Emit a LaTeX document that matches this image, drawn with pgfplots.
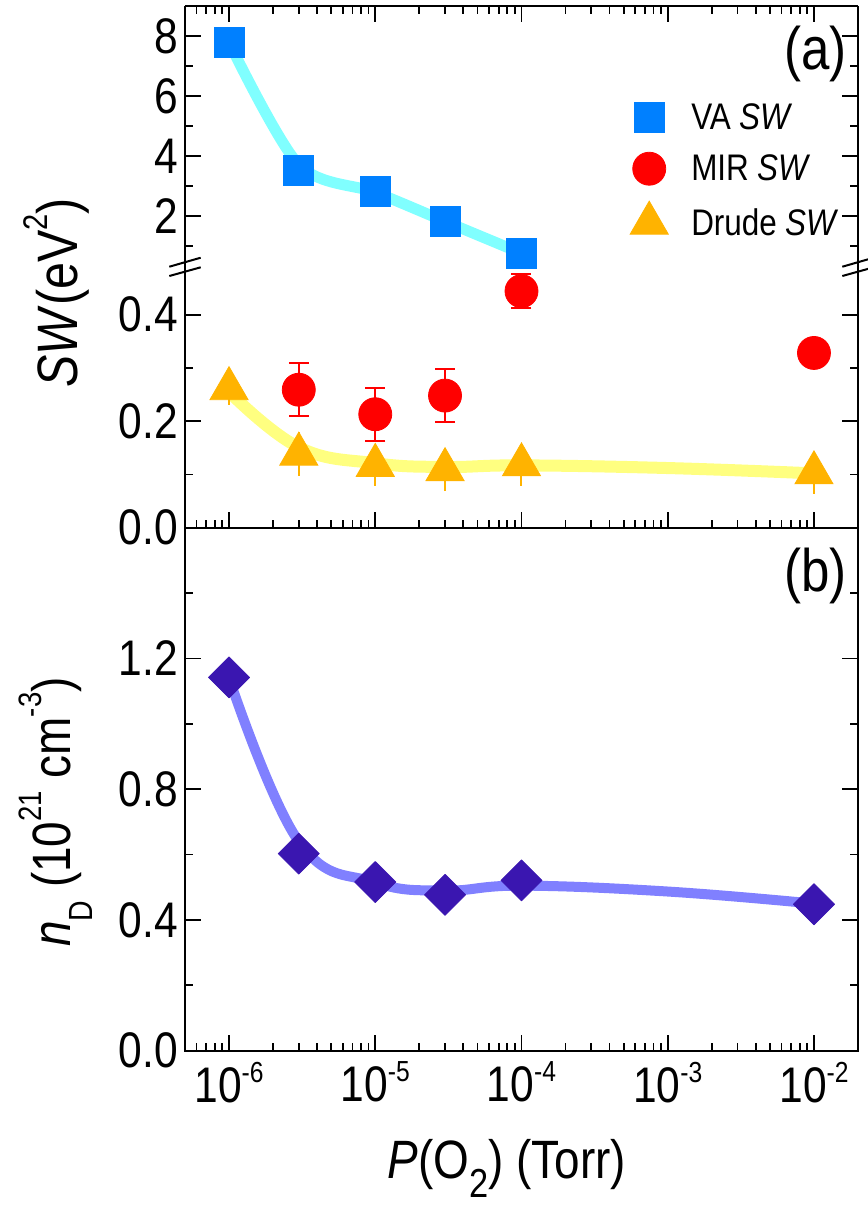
\documentclass[border=0pt]{standalone}
\usepackage{fontspec}
\setmainfont{Liberation Sans}[FakeStretch=0.85]
\usepackage{graphicx}
\usepackage{pgfplots}
\pgfplotsset{compat=1.18}
\definecolor{vablue}{RGB}{0,128,255}
\definecolor{valine}{RGB}{128,255,255}
\definecolor{mirred}{RGB}{255,0,0}
\definecolor{drude}{RGB}{255,179,0}
\definecolor{drline}{RGB}{255,255,128}
\definecolor{ndpurp}{RGB}{58,22,176}
\definecolor{ndline}{RGB}{128,128,255}
\newcommand{\sups}[1]{\raisebox{0.40em}{\scalebox{0.58}{#1}}}
\newcommand{\supy}[1]{\raisebox{0.52em}{\scalebox{0.6}{#1}}}
\newcommand{\subs}[1]{\raisebox{-0.42em}{\scalebox{0.62}{#1}}}
\newcommand{\subx}[1]{\raisebox{-0.36em}{\scalebox{0.75}{#1}}}
\pgfplotsset{
  every axis/.append style={
    scale only axis, width=336.5pt,
    xmin=5e-7, xmax=2e-2,
    tick align=inside,
    major tick length=8pt, minor tick length=4pt,
    axis line style={line width=1pt},
    every major tick/.append style={black, line width=0.9pt},
    every minor tick/.append style={black, line width=0.9pt},
    tick label style={font=\fontsize{25}{25}\selectfont},
  }
}
\begin{document}
\begin{tikzpicture}
\useasboundingbox (0,0) rectangle (434pt,-603.5pt);
% ---------- (a) upper section ----------
\begin{semilogxaxis}[at={(92.5pt,-130.65pt)}, anchor=south west, height=127.5pt,
  xtick={1e-6,1e-5,1e-4,1e-3,1e-2},
  minor xtick={6e-7,7e-7,8e-7,9e-7,2e-6,3e-6,4e-6,5e-6,6e-6,7e-6,8e-6,9e-6,2e-5,3e-5,4e-5,5e-5,6e-5,7e-5,8e-5,9e-5,2e-4,3e-4,4e-4,5e-4,6e-4,7e-4,8e-4,9e-4,2e-3,3e-3,4e-3,5e-3,6e-3,7e-3,8e-3,9e-3},
  ymin=0.5, ymax=9, ytick={2,4,6,8}, yticklabels={2,4,6,8}, minor ytick={1,3,5,7},
  axis x line*=top, axis y line*=box, xtick pos=right, ytick pos=both, xticklabel=\empty,
  legend style={draw=none, fill=none, at={(0.652,0.652)}, anchor=north west,
    font=\fontsize{18.5}{18.5}\selectfont, row sep=7pt,
    /tikz/every odd column/.append style={column sep=9.5pt}},
  legend cell align=left]
\addplot[valine, line width=5.5pt, smooth, line cap=round, forget plot] coordinates {
  (1e-6,7.8) (3e-6,3.72) (1e-5,2.8) (3e-5,1.83) (1e-4,0.77)};
\addplot[only marks, mark=square*, mark size=7.5pt, color=vablue] coordinates {
  (1e-6,7.80) (3e-6,3.53) (1e-5,2.82) (3e-5,1.82) (1e-4,0.77)};
\addlegendentry{VA \textit{SW}}
\addlegendimage{only marks, mark=*, mark size=8.25pt, color=mirred}
\addlegendentry{MIR \textit{SW}}
\addlegendimage{only marks, mark=triangle*, mark size=11pt, color=drude}
\addlegendentry{Drude \textit{SW}}
\end{semilogxaxis}
% ---------- (a) lower section ----------
\begin{semilogxaxis}[at={(92.5pt,-263.85pt)}, anchor=south west, height=133.2pt,
  xtick={1e-6,1e-5,1e-4,1e-3,1e-2},
  minor xtick={6e-7,7e-7,8e-7,9e-7,2e-6,3e-6,4e-6,5e-6,6e-6,7e-6,8e-6,9e-6,2e-5,3e-5,4e-5,5e-5,6e-5,7e-5,8e-5,9e-5,2e-4,3e-4,4e-4,5e-4,6e-4,7e-4,8e-4,9e-4,2e-3,3e-3,4e-3,5e-3,6e-3,7e-3,8e-3,9e-3},
  ymin=0, ymax=0.5, ytick={0,0.2,0.4}, yticklabels={0.0,0.2,0.4}, minor ytick={0.1,0.3},
  axis x line*=bottom, axis y line*=box, xtick pos=left, ytick pos=both, xticklabel=\empty]
\addplot[drline, line width=6pt, smooth, tension=0.7, line cap=round] coordinates {
  (1e-6,0.255) (3e-6,0.151) (1e-5,0.121) (3e-5,0.114)
  (1e-4,0.117) (1e-3,0.112) (1e-2,0.102)};
\addplot[only marks, mark=*, mark size=8.25pt, color=mirred,
  error bars/.cd, y dir=both, y explicit,
  error bar style={line width=1pt, mirred},
  error mark options={rotate=90, mark size=5pt, line width=1pt, mirred}] coordinates {
  (3e-6,0.259) +- (0,0.05)
  (1e-5,0.213) +- (0,0.05)
  (3e-5,0.248) +- (0,0.05)
  (1e-4,0.444) +- (0,0.032)
  (1e-2,0.328) +- (0,0)};
\addplot[only marks, mark=triangle*, mark size=11pt, color=drude,
  error bars/.cd, y dir=both, y explicit,
  error bar style={line width=1pt, drude}, error mark=none] coordinates {
  (1e-6,0.261) +- (0,0.030)
  (3e-6,0.138) +- (0,0.041)
  (1e-5,0.117) +- (0,0.039)
  (3e-5,0.109) +- (0,0.040)
  (1e-4,0.118) +- (0,0.039)
  (1e-2,0.103) +- (0,0.040)};
\end{semilogxaxis}
% ---------- (b) ----------
\begin{semilogxaxis}[at={(92.5pt,-525.35pt)}, anchor=south west, height=261.5pt,
  xtick={1e-6,1e-5,1e-4,1e-3,1e-2},
  minor xtick={6e-7,7e-7,8e-7,9e-7,2e-6,3e-6,4e-6,5e-6,6e-6,7e-6,8e-6,9e-6,2e-5,3e-5,4e-5,5e-5,6e-5,7e-5,8e-5,9e-5,2e-4,3e-4,4e-4,5e-4,6e-4,7e-4,8e-4,9e-4,2e-3,3e-3,4e-3,5e-3,6e-3,7e-3,8e-3,9e-3},
  ymin=0, ymax=1.6, ytick={0,0.4,0.8,1.2}, yticklabels={0.0,0.4,0.8,1.2},
  minor ytick={0.2,0.6,1.0,1.4}, xtick pos=left, ytick pos=both,
  xticklabel style={yshift=-2pt},
  xticklabels={10\sups{-6},10\sups{-5},10\sups{-4},10\sups{-3},10\sups{-2}}]
\addplot[ndline, line width=5pt, smooth, tension=0.7, line cap=round] coordinates {
  (1e-6,1.14) (3e-6,0.64) (1e-5,0.515) (3e-5,0.49)
  (1e-4,0.505) (1e-3,0.487) (1e-2,0.45)};
\addplot[only marks, mark=square*, mark size=7.25pt, color=ndpurp,
  mark options={rotate=45, line join=round}] coordinates {
  (1e-6,1.142) (3e-6,0.603) (1e-5,0.516) (3e-5,0.477) (1e-4,0.521) (1e-2,0.448)};
\end{semilogxaxis}
% axis breaks
\draw[line width=1pt] (84.65pt,-133.35pt) -- (100.35pt,-128.85pt);
\draw[line width=1pt] (84.65pt,-138pt) -- (100.35pt,-133.65pt);
\draw[line width=1pt] (421.15pt,-133.35pt) -- (436.85pt,-128.85pt);
\draw[line width=1pt] (421.15pt,-138pt) -- (436.85pt,-133.65pt);
% labels
\node[anchor=east, font=\fontsize{30}{30}\selectfont] at (427pt,-27pt) {(a)};
\node[anchor=east, font=\fontsize{30}{30}\selectfont] at (427pt,-288pt) {(b)};
\node[rotate=90, anchor=base, font=\fontsize{28.5}{28.5}\selectfont] at (38.5pt,-146.5pt)
  {\textit{SW}(eV\supy{2})};
\node[rotate=90, anchor=base, font=\fontsize{27}{27}\selectfont] at (35pt,-406pt)
  {\textit{n}\subs{D} (10\supy{21} cm\supy{-3})};
\node[anchor=base, font=\fontsize{27}{27}\selectfont] at (253.5pt,-589pt)
  {\textit{P}(O\subx{2}) (Torr)};
\end{tikzpicture}
\end{document}
